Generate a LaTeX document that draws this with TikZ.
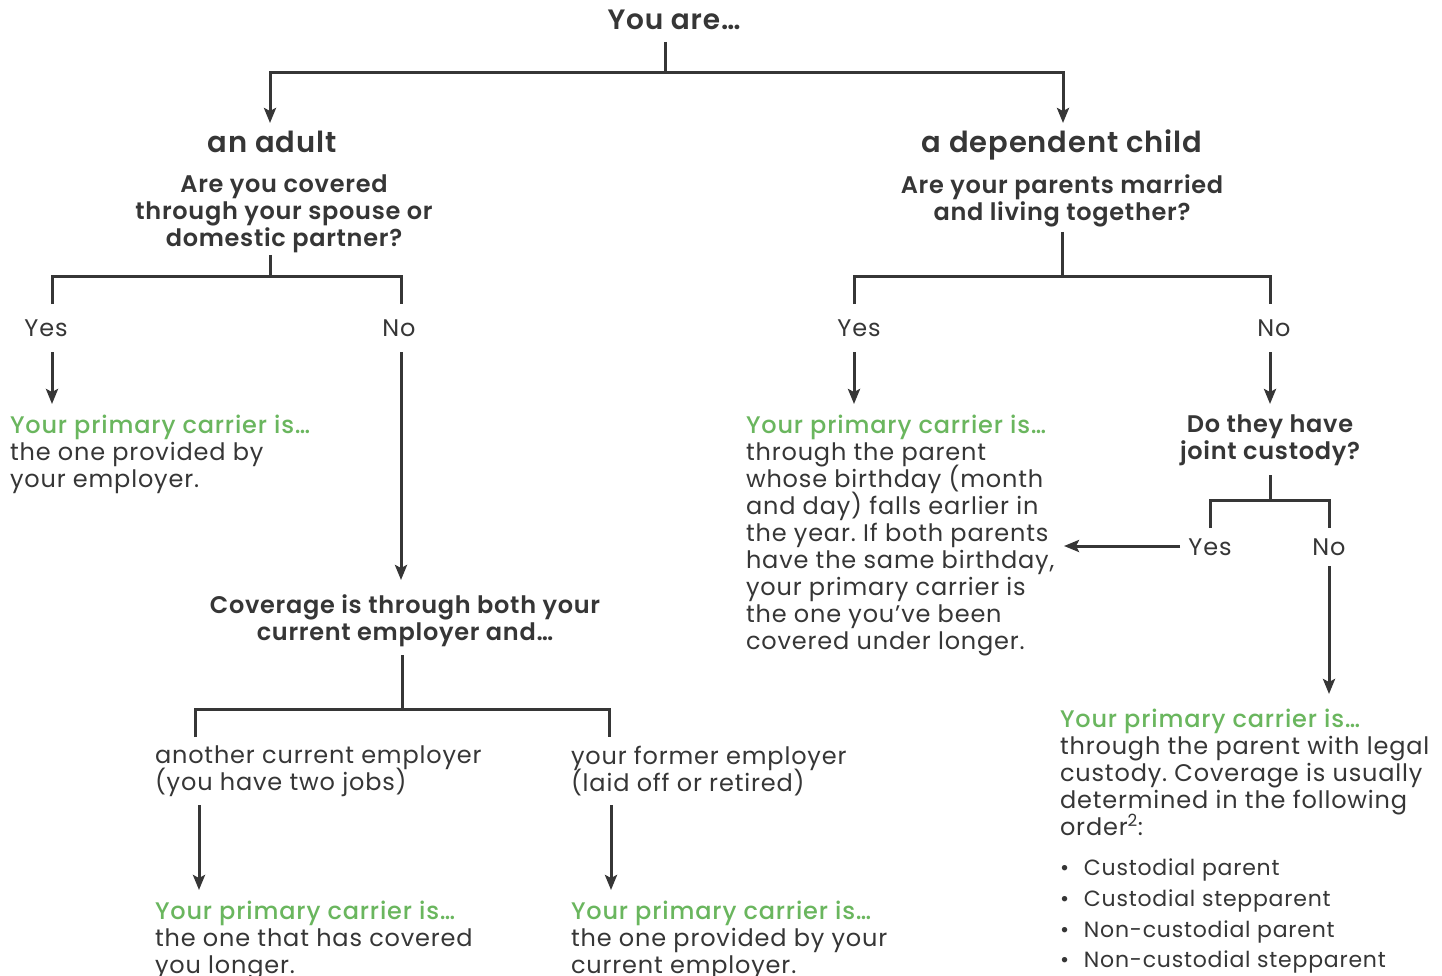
\documentclass[tikz,border=0pt]{standalone}
\usepackage{fontspec}
\setmainfont{Poppins}[LetterSpace=3.5, BoldFont={Poppins Medium}]
\newfontfamily\semib{Poppins SemiBold}[LetterSpace=3]
\usetikzlibrary{arrows.meta}
\definecolor{ink}{HTML}{363636}
\definecolor{grn}{HTML}{6AB65E}
\newcommand{\pc}{\textcolor{grn}{\bfseries Your primary carrier is…}}
\newcommand{\tightlines}{\lineskiplimit=-100pt\relax\lineskip=0pt\relax\frenchspacing}
\begin{document}
\begin{tikzpicture}[x=1pt,y=-1pt,
  every node/.style={inner sep=0pt, outer sep=0pt, text=ink},
  body/.style={font=\fontsize{24}{27}\selectfont\tightlines, align=left, anchor=north west},
  quest/.style={font=\semib\fontsize{24}{27}\selectfont\tightlines, align=center, anchor=north},
  head/.style={font=\semib\fontsize{29}{34}\selectfont, anchor=base},
  titl/.style={font=\semib\fontsize{28}{34}\selectfont, anchor=base},
  yn/.style={font=\fontsize{24}{27}\selectfont, anchor=base},
  conn/.style={draw=ink, line width=3pt},
  arr/.style={conn, -{Stealth[length=15pt,width=12pt,inset=3pt]}},
]
\useasboundingbox[fill=white] (0,0) rectangle (1442,976);

% ---------- text ----------
\node[titl] (top) at (674,30) {You are…};
\node[head] (adult) at (272,153) {an adult};
\node[head] (child) at (1062,153) {a dependent child};
\node[quest] (q1) at (284,175) {Are you covered\\through your spouse or\\domestic partner?};
\node[quest] (q2) at (1062,175) {Are your parents married\\and living together?};

\node[yn] (yes1) at (46,336) {Yes};
\node[yn] (no1) at (399,336) {No};
\node[yn] (yes2) at (859,336) {Yes};
\node[yn] (no2) at (1274,336) {No};

\node[body] (r1) at (10,415) {\pc\\the one provided by\\your employer.};
\node[quest] (cov) at (405,595) {Coverage is through both your\\current employer and…};
\node[body] (opt1) at (155,746) {another current employer\\(you have two jobs)};
\node[body] (opt2) at (571,746) {your former employer\\(laid off or retired)};
\node[body] (r2) at (155,901) {\pc\\the one that has covered\\you longer.};
\node[body] (r3) at (571,901) {\pc\\the one provided by your\\current employer.};

\node[body] (r4) at (746,415) {\pc\\through the parent\\whose birthday (month\\and day) falls earlier in\\the year. If both parents\\have the same birthday,\\your primary carrier is\\the one you’ve been\\covered under longer.};
\node[quest] (q3) at (1270,415) {Do they have\\joint custody?};
\node[yn] (yes3) at (1210,555) {Yes};
\node[yn] (no3) at (1329,555) {No};
\node[body] (r5) at (1060,709) {\pc\\through the parent with legal\\custody. Coverage is usually\\determined in the following\\order\textsuperscript{2}:};
\node[body, font=\fontsize{22}{30.7}\selectfont\tightlines] (list) at (1060,859) {\makebox[24pt][l]{•}Custodial parent\\\makebox[24pt][l]{•}Custodial stepparent\\\makebox[24pt][l]{•}Non-custodial parent\\\makebox[24pt][l]{•}Non-custodial stepparent};

% ---------- connector points ----------
\coordinate (t0) at (665,42);
\coordinate (t1) at (665,73);
\coordinate (a0) at (270,123);
\coordinate (c0) at (1063,123);

\coordinate (q1s) at (270,255);
\coordinate (q1j) at (270,276);
\coordinate (y1t) at (52,304);
\coordinate (n1t) at (401,304);
\coordinate (y1b) at (52,352);
\coordinate (r1t) at (52,404);
\coordinate (n1b) at (401,352);
\coordinate (covt) at (401,580);

\coordinate (covs) at (402,655);
\coordinate (covj) at (402,709);
\coordinate (o1t) at (195,737);
\coordinate (o2t) at (609,737);
\coordinate (o1b) at (199,805);
\coordinate (r2t) at (199,890);
\coordinate (o2b) at (611,805);
\coordinate (r3t) at (611,890);

\coordinate (q2s) at (1062,232);
\coordinate (q2j) at (1062,276);
\coordinate (y2t) at (854,304);
\coordinate (n2t) at (1270,304);
\coordinate (y2b) at (854,352);
\coordinate (r4t) at (854,404);
\coordinate (n2b) at (1270,352);
\coordinate (q3t) at (1270,404);

\coordinate (q3s) at (1270,475);
\coordinate (q3j) at (1270,500);
\coordinate (y3t) at (1210,528);
\coordinate (n3t) at (1329,528);
\coordinate (y3l) at (1180,546);
\coordinate (r4r) at (1064,546);
\coordinate (n3b) at (1329,566);
\coordinate (r5t) at (1329,694);

% ---------- connectors ----------
\draw[arr] (t0) -- (t1) -| (a0);
\draw[arr] (t1) -| (c0);

\draw[conn] (q1s) -- (q1j);
\draw[conn] (y1t) |- (q1j) -| (n1t);
\draw[arr] (y1b) -- (r1t);
\draw[arr] (n1b) -- (covt);

\draw[conn] (covs) -- (covj);
\draw[conn] (o1t) |- (covj) -| (o2t);
\draw[arr] (o1b) -- (r2t);
\draw[arr] (o2b) -- (r3t);

\draw[conn] (q2s) -- (q2j);
\draw[conn] (y2t) |- (q2j) -| (n2t);
\draw[arr] (y2b) -- (r4t);
\draw[arr] (n2b) -- (q3t);

\draw[conn] (q3s) -- (q3j);
\draw[conn] (y3t) |- (q3j) -| (n3t);
\draw[arr] (y3l) -- (r4r);
\draw[arr] (n3b) -- (r5t);
\end{tikzpicture}
\end{document}
